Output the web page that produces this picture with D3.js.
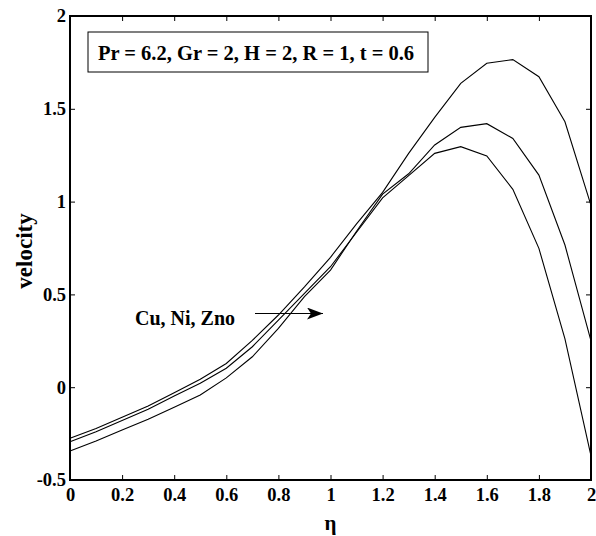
<!DOCTYPE html>
<html lang="en">
<head>
<meta charset="utf-8">
<title>velocity</title>
<script src="https://d3js.org/d3.v7.min.js"></script>
<style>
  body { margin: 0; background: #fff; }
  svg text { font-family: "Liberation Serif", "Times New Roman", serif; font-weight: bold; fill: #000; }
</style>
</head>
<body>
<div id="chart"></div>
<script>
// eta values, one point every 0.1
var eta = [0, 0.1, 0.2, 0.3, 0.4, 0.5, 0.6, 0.7, 0.8, 0.9, 1.0,
           1.1, 1.2, 1.3, 1.4, 1.5, 1.6, 1.7, 1.8, 1.9, 2.0];

// three curves
var curveA = [-0.275, -0.222, -0.162, -0.101, -0.030, 0.043, 0.128, 0.252, 0.389, 0.541, 0.700,
              0.880, 1.050, 1.260, 1.454, 1.637, 1.745, 1.765, 1.673, 1.430, 0.980];
var curveB = [-0.294, -0.240, -0.180, -0.119, -0.047, 0.021, 0.102, 0.218, 0.362, 0.506, 0.649,
              0.835, 1.020, 1.140, 1.260, 1.296, 1.246, 1.066, 0.748, 0.260, -0.370];
var curveC = [-0.344, -0.290, -0.230, -0.173, -0.108, -0.042, 0.050, 0.164, 0.317, 0.488, 0.631,
              0.840, 1.040, 1.150, 1.305, 1.400, 1.420, 1.340, 1.143, 0.766, 0.250];

var xTicks = [0, 0.2, 0.4, 0.6, 0.8, 1, 1.2, 1.4, 1.6, 1.8, 2];
var yTicks = [-0.5, 0, 0.5, 1, 1.5, 2];

var paramText = "Pr = 6.2, Gr = 2, H = 2, R = 1, t = 0.6";
var curveLabel = "Cu, Ni, Zno";

var W = 596, H = 536;
var m = {left: 70, right: 591, top: 16, bottom: 480};

var svg = d3.select("#chart").append("svg")
    .attr("width", W)
    .attr("height", H);

var x = d3.scaleLinear().domain([0, 2]).range([m.left, m.right]);
var y = d3.scaleLinear().domain([-0.5, 2]).range([m.bottom, m.top]);

var fmt = function(d) { return String(d); };

// axes, ticks pointing inward
var gx = svg.append("g")
    .attr("transform", "translate(0," + m.bottom + ")")
    .call(d3.axisBottom(x).tickValues(xTicks).tickFormat(fmt).tickSizeInner(-5).tickSizeOuter(0).tickPadding(8));
var gy = svg.append("g")
    .attr("transform", "translate(" + m.left + ",0)")
    .call(d3.axisLeft(y).tickValues(yTicks).tickFormat(fmt).tickSizeInner(-5).tickSizeOuter(0).tickPadding(4));
var gt = svg.append("g")
    .attr("transform", "translate(0," + m.top + ")")
    .call(d3.axisTop(x).tickValues(xTicks).tickFormat("").tickSizeInner(-5).tickSizeOuter(0));
var gr = svg.append("g")
    .attr("transform", "translate(" + m.right + ",0)")
    .call(d3.axisRight(y).tickValues(yTicks).tickFormat("").tickSizeInner(-5).tickSizeOuter(0));

[gx, gy, gt, gr].forEach(function(g) {
  g.attr("font-family", null).attr("font-size", null);
  g.select(".domain").remove();
  g.selectAll("line").attr("stroke", "#000").attr("stroke-width", 1);
  g.selectAll("text").style("font-size", "18.5px").attr("fill", "#000");
});

// frame
svg.append("rect")
    .attr("x", m.left).attr("y", m.top)
    .attr("width", m.right - m.left).attr("height", m.bottom - m.top)
    .attr("fill", "none").attr("stroke", "#000").attr("stroke-width", 2);

// curves
var line = d3.line()
    .x(function(d, i) { return x(eta[i]); })
    .y(function(d) { return y(d); });

[curveA, curveB, curveC].forEach(function(c) {
  svg.append("path")
      .datum(c)
      .attr("d", line)
      .attr("fill", "none")
      .attr("stroke", "#000")
      .attr("stroke-width", 1.1);
});

// axis titles
svg.append("text")
    .attr("x", (m.left + m.right) / 2).attr("y", 530)
    .attr("text-anchor", "middle")
    .style("font-size", "21px")
    .text("η");

svg.append("text")
    .attr("transform", "translate(32,251) rotate(-90)")
    .attr("text-anchor", "middle")
    .style("font-size", "23px")
    .text("velocity");

// parameter box
svg.append("rect")
    .attr("x", 88).attr("y", 32)
    .attr("width", 340).attr("height", 40)
    .attr("fill", "#fff").attr("stroke", "#000").attr("stroke-width", 1);
svg.append("text")
    .attr("x", 256).attr("y", 60)
    .attr("text-anchor", "middle")
    .style("font-size", "20.5px")
    .text(paramText);

// annotation with arrow
svg.append("defs").append("marker")
    .attr("id", "head")
    .attr("viewBox", "0 0 16 12")
    .attr("refX", 16).attr("refY", 6)
    .attr("markerWidth", 16).attr("markerHeight", 12)
    .attr("markerUnits", "userSpaceOnUse")
    .attr("orient", "auto")
  .append("path")
    .attr("d", "M0,0 L16,6 L0,12 L4,6 Z")
    .attr("fill", "#000");

svg.append("text")
    .attr("x", 135).attr("y", 325)
    .style("font-size", "20px")
    .text(curveLabel);

svg.append("line")
    .attr("x1", 255).attr("y1", 313.5)
    .attr("x2", 323).attr("y2", 313.5)
    .attr("stroke", "#000").attr("stroke-width", 1)
    .attr("marker-end", "url(#head)");
</script>
</body>
</html>
